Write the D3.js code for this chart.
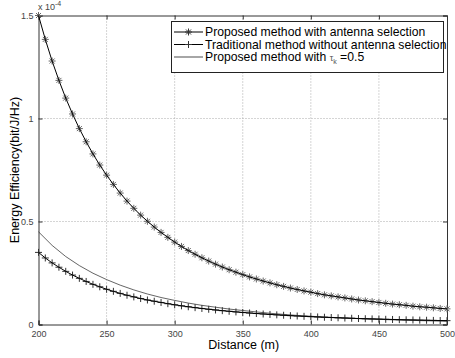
<!DOCTYPE html>
<html>
<head>
<meta charset="utf-8">
<script src="https://cdn.jsdelivr.net/npm/d3@7/dist/d3.min.js"></script>
<style>
  body { margin: 0; background: #fff; }
  svg { display: block; font-family: Arial, "Liberation Sans", sans-serif; }
</style>
</head>
<body>
<svg id="chart" width="455" height="358"></svg>
<script>
// distance (m), 5 m steps
const distance = d3.range(200, 501, 5);
// values in units of 1e-4 bit/J/Hz
const proposedAS = [1.500, 1.384, 1.279, 1.185, 1.099, 1.022, 0.951, 0.887, 0.828, 0.774,
  0.725, 0.680, 0.638, 0.599, 0.564, 0.531, 0.501, 0.473, 0.447, 0.423,
  0.400, 0.379, 0.359, 0.341, 0.324, 0.308, 0.293, 0.279, 0.266, 0.254,
  0.242, 0.231, 0.221, 0.211, 0.202, 0.193, 0.185, 0.177, 0.170, 0.163,
  0.157, 0.150, 0.144, 0.139, 0.134, 0.129, 0.124, 0.119, 0.115, 0.111,
  0.107, 0.103, 0.099, 0.096, 0.093, 0.089, 0.086, 0.084, 0.081, 0.078, 0.076];
const traditional = [0.350, 0.323, 0.299, 0.278, 0.258, 0.240, 0.224, 0.209, 0.195, 0.183,
  0.171, 0.161, 0.151, 0.142, 0.134, 0.126, 0.119, 0.113, 0.107, 0.101,
  0.0956, 0.0907, 0.0861, 0.0818, 0.0778, 0.0740, 0.0705, 0.0672, 0.0641, 0.0611,
  0.0584, 0.0558, 0.0533, 0.0510, 0.0489, 0.0468, 0.0449, 0.0430, 0.0413, 0.0397,
  0.0381, 0.0366, 0.0352, 0.0339, 0.0326, 0.0314, 0.0302, 0.0291, 0.0281, 0.0271,
  0.0261, 0.0252, 0.0244, 0.0235, 0.0227, 0.0220, 0.0213, 0.0206, 0.0199, 0.0193, 0.0187];
// tau_k = 0.5 curve, 10 m steps
const distanceTau = d3.range(200, 501, 10);
const proposedTau = [0.450, 0.384, 0.330, 0.286, 0.249, 0.218, 0.191, 0.168, 0.148, 0.131,
  0.117, 0.104, 0.093, 0.084, 0.075, 0.068, 0.061, 0.0545, 0.049, 0.044,
  0.040, 0.036, 0.033, 0.030, 0.027, 0.025, 0.0227, 0.0207, 0.0189, 0.0173, 0.0159];

const xTicks = [200, 250, 300, 350, 400, 450, 500];
const yTicks = [0, 0.5, 1, 1.5];
const yTickLabels = ['0', '0.5', '1', '1.5'];
const legendLabels = ['Proposed method with antenna selection', 'Traditional method without antenna selection'];

const svg = d3.select('#chart');
const margin = { top: 15.5, right: 8, bottom: 33.5, left: 38.5 },
  width = 455 - margin.left - margin.right,
  height = 358 - margin.top - margin.bottom;

const x = d3.scaleLinear().domain([200, 500]).range([0, width]);
const y = d3.scaleLinear().domain([0, 1.5]).range([height, 0]);

const g = svg.append('g')
  .attr('transform', 'translate(' + margin.left + ',' + margin.top + ')');

// grid
g.append('g').selectAll('line').data(xTicks.slice(1, -1)).join('line')
  .attr('x1', d => x(d)).attr('x2', d => x(d))
  .attr('y1', 0).attr('y2', height)
  .attr('stroke', '#aaa').attr('stroke-dasharray', '1,2');
g.append('g').selectAll('line').data(yTicks.slice(1, -1)).join('line')
  .attr('y1', d => y(d)).attr('y2', d => y(d))
  .attr('x1', 0).attr('x2', width)
  .attr('stroke', '#aaa').attr('stroke-dasharray', '1,2');

// axes (ticks inward, box)
const xAxis = d3.axisBottom(x).tickValues(xTicks).tickSize(-4).tickPadding(6).tickFormat(d3.format('d'));
const yAxis = d3.axisLeft(y).tickValues(yTicks).tickSize(-4).tickPadding(5).tickFormat((d, i) => yTickLabels[i]);

const gx = g.append('g').attr('transform', 'translate(0,' + height + ')').call(xAxis);
const gy = g.append('g').call(yAxis);
g.append('g').call(d3.axisTop(x).tickValues(xTicks).tickSize(-4).tickFormat(''));
g.append('g').attr('transform', 'translate(' + width + ',0)')
  .call(d3.axisRight(y).tickValues(yTicks).tickSize(-4).tickFormat(''));

g.selectAll('.domain').attr('stroke', '#333');
g.selectAll('.tick line').attr('stroke', '#333');
[gx, gy].forEach(a => a.selectAll('.tick text')
  .attr('font-size', 9).attr('fill', '#444').attr('font-family', 'Arial, "Liberation Sans", sans-serif'));
gy.selectAll('.tick text').attr('dy', '0.35em');

// exponent label
const exp = svg.append('text').attr('x', 38).attr('y', 10)
  .attr('font-size', 9).attr('fill', '#444');
exp.append('tspan').text('x 10');
exp.append('tspan').attr('dy', -4).attr('font-size', 7).text('-4');

// lines
const line = d3.line().x(d => x(d[0])).y(d => y(d[1]));
const starPath = 'M-3.5,0H3.5M0,-3.5V3.5M-2.5,-2.5L2.5,2.5M-2.5,2.5L2.5,-2.5';
const plusPath = 'M-3.5,0H3.5M0,-3.5V3.5';

const sP = distance.map((d, i) => [d, proposedAS[i]]);
const sT = distance.map((d, i) => [d, traditional[i]]);
const sTau = distanceTau.map((d, i) => [d, proposedTau[i]]);

g.append('path').datum(sTau).attr('d', line).attr('fill', 'none').attr('stroke', '#222').attr('stroke-width', 0.7);

g.append('g').selectAll('path').data(sP).join('path')
  .attr('transform', d => 'translate(' + x(d[0]) + ',' + y(d[1]) + ')')
  .attr('d', starPath).attr('stroke', '#666').attr('fill', 'none');
g.append('path').datum(sP).attr('d', line).attr('fill', 'none').attr('stroke', '#000').attr('stroke-width', 1);

g.append('g').selectAll('path').data(sT).join('path')
  .attr('transform', d => 'translate(' + x(d[0]) + ',' + y(d[1]) + ')')
  .attr('d', plusPath).attr('stroke', '#333').attr('fill', 'none');
g.append('path').datum(sT).attr('d', line).attr('fill', 'none').attr('stroke', '#000').attr('stroke-width', 1);

// axis titles
svg.append('text').attr('x', margin.left + width / 2 + 1).attr('y', 349)
  .attr('text-anchor', 'middle').attr('font-size', 12.5).text('Distance (m)');
svg.append('text').attr('transform', 'translate(19,' + (margin.top + height / 2) + ') rotate(-90)')
  .attr('text-anchor', 'middle').attr('font-size', 12.5).text('Energy Efficiency(bit/J/Hz)');

// legend
const lg = svg.append('g');
lg.append('rect').attr('x', 171.5).attr('y', 21.5).attr('width', 272).attr('height', 51)
  .attr('fill', '#fff').attr('stroke', '#222');
const rows = [32, 44.5, 57];
const markers = [starPath, plusPath, null];
rows.forEach((ry, i) => {
  lg.append('line').attr('x1', 174).attr('x2', 203).attr('y1', ry).attr('y2', ry)
    .attr('stroke', '#000').attr('stroke-width', i < 2 ? 1 : 0.7);
  if (markers[i]) lg.append('path').attr('transform', 'translate(188.5,' + ry + ')')
    .attr('d', markers[i]).attr('stroke', '#333').attr('fill', 'none');
  const t = lg.append('text').attr('x', 205).attr('y', ry + 4.3).attr('font-size', 12.2);
  if (i < 2) t.text(legendLabels[i]);
  else {
    t.append('tspan').text('Proposed method with ');
    t.append('tspan').attr('font-size', 9).attr('fill', '#555').text('τ');
    t.append('tspan').attr('font-size', 7).attr('fill', '#555').attr('dy', 3).text('k');
    t.append('tspan').attr('dy', -3).text(' =0.5');
  }
});
</script>
</body>
</html>
